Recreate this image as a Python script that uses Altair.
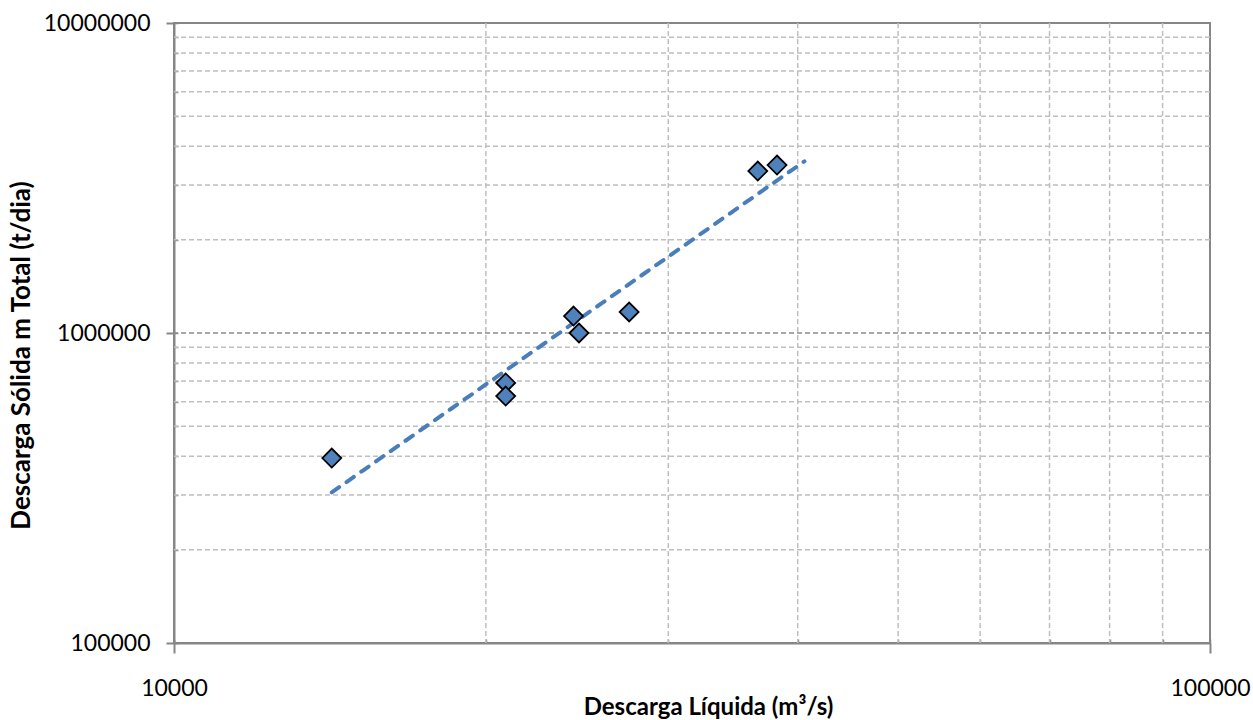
import altair as alt
import pandas as pd

# ---- data ----
descarga_liquida = [14200, 20900, 20900, 24300, 24600, 27500, 36600, 38200]        # m3/s
descarga_solida = [395000, 690000, 626000, 1134000, 1000000, 1169000, 3330000, 3480000]  # t/dia
trend_extent = [14200, 40600]

x_major = [10000, 100000]
y_major = [100000, 1000000, 10000000]
x_minor = [20000, 30000, 40000, 50000, 60000, 70000, 80000, 90000]
y_minor = [200000, 300000, 400000, 500000, 600000, 700000, 800000, 900000,
           2000000, 3000000, 4000000, 5000000, 6000000, 7000000, 8000000, 9000000]
y_major_grid = [1000000]

x_title = "Descarga Líquida (m³/s)"
y_title = "Descarga Sólida m Total (t/dia)"

df = pd.DataFrame({"Q": descarga_liquida, "Qs": descarga_solida})

GRAY = "#868686"
GRID = "#BFBFBF"
FONT = "Lato"

xs = alt.Scale(type="log", domain=[10000, 100000], nice=False)
ys = alt.Scale(type="log", domain=[100000, 10000000], nice=False)

vgrid = alt.Chart(pd.DataFrame({"v": x_minor})).mark_rule(
    color=GRID, strokeDash=[5, 3], strokeWidth=1.5
).encode(x=alt.X("v:Q", scale=xs, axis=None))

hgrid = alt.Chart(pd.DataFrame({"h": y_minor})).mark_rule(
    color=GRID, strokeDash=[5, 3], strokeWidth=1.5
).encode(y=alt.Y("h:Q", scale=ys, axis=None))

hmajor = alt.Chart(pd.DataFrame({"h": y_major_grid})).mark_rule(
    color="#8C8C8C", strokeDash=[5, 3], strokeWidth=1.5
).encode(y=alt.Y("h:Q", scale=ys, axis=None))

trend = alt.Chart(df).transform_regression(
    "Q", "Qs", method="pow", extent=trend_extent
).mark_line(
    color="#4A7EBB", strokeWidth=4, strokeDash=[9, 9], strokeCap="round"
).encode(
    x=alt.X("Q:Q", scale=xs, axis=None),
    y=alt.Y("Qs:Q", scale=ys, axis=None),
)

# inner (minor) ticks
inner = alt.Chart(df).mark_point(opacity=0).encode(
    x=alt.X("Q:Q", scale=xs, axis=alt.Axis(
        orient="bottom", values=x_minor + x_major, domain=False, labels=False,
        grid=False, ticks=True, tickSize=4, offset=-4, tickColor=GRAY,
        tickWidth=1.5, title=None)),
    y=alt.Y("Qs:Q", scale=ys, axis=alt.Axis(
        orient="left", values=y_minor + y_major, domain=False, labels=False,
        grid=False, ticks=True, tickSize=4, offset=-4, tickColor=GRAY,
        tickWidth=1.5, title=None)),
)

points = alt.Chart(df).mark_point(
    shape="diamond", filled=True, fill="#4F81BD", stroke="black",
    strokeWidth=1.8, size=360, opacity=1
).encode(
    x=alt.X("Q:Q", scale=xs, axis=alt.Axis(
        orient="bottom", values=x_major, format="d", grid=False,
        domainColor=GRAY, domainWidth=2, tickColor=GRAY, tickWidth=2, tickSize=10,
        labelFont=FONT, labelFontSize=23, labelColor="black", labelPadding=35,
        labelBaseline="middle", labelFlush=False, labelOverlap=False,
        title=x_title, titleFont=FONT, titleFontSize=24, titleFontWeight="bold",
        titleColor="black", titleX=534, titleY=64, titleAlign="center",
        titleBaseline="middle")),
    y=alt.Y("Qs:Q", scale=ys, axis=alt.Axis(
        orient="left", values=y_major, format="d", grid=False,
        domainColor=GRAY, domainWidth=2, tickColor=GRAY, tickWidth=2, tickSize=8,
        labelFont=FONT, labelFontSize=23, labelColor="black", labelPadding=16,
        labelFlush=False, labelOverlap=False,
        title=y_title, titleFont=FONT, titleFontSize=26, titleFontWeight="bold",
        titleColor="black", titleX=-153, titleY=332, titleAlign="center",
        titleBaseline="middle", titleAngle=270)),
)

chart = alt.layer(vgrid, hgrid, hmajor, trend, inner, points).resolve_scale(
    x="shared", y="shared"
).resolve_axis(
    x="independent", y="independent"
).properties(
    width=1036, height=620,
    autosize=alt.AutoSizeParams(type="none"),
    padding={"left": 174, "top": 23, "right": 43, "bottom": 77},
    background="white",
).configure_view(stroke=GRAY, strokeWidth=2)

chart.save("out.html", embed_options={"renderer": "svg", "actions": False})
